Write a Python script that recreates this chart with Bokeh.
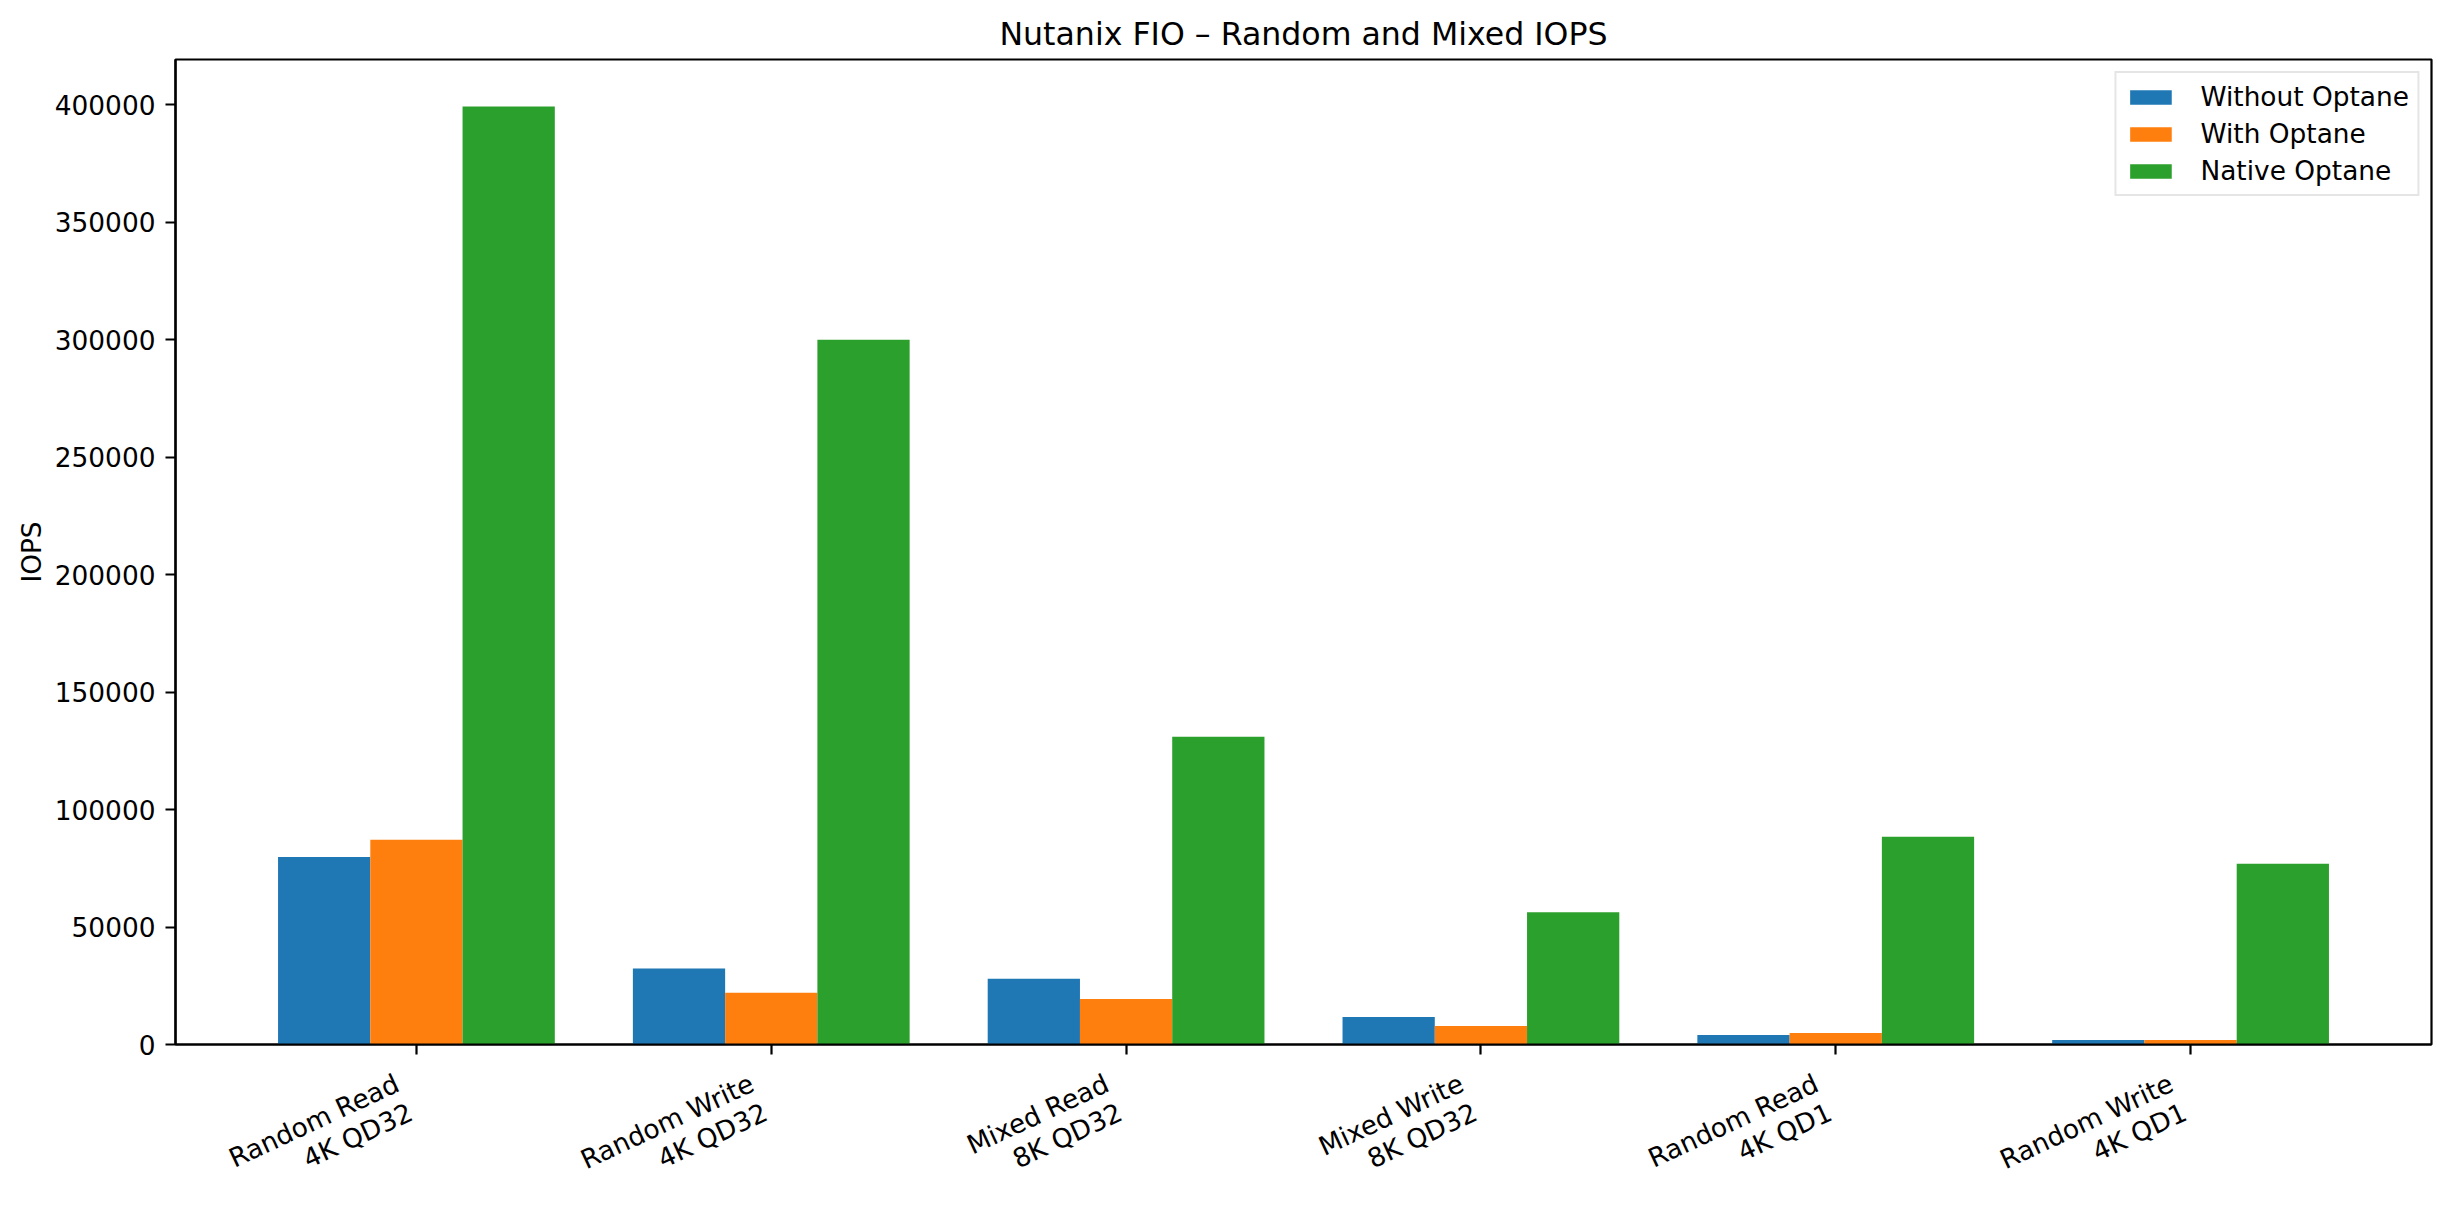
import math
from bokeh.plotting import figure
from bokeh.layouts import column
from bokeh.models import (ColumnDataSource, Range1d, FixedTicker, NumeralTickFormatter,
                          Legend, LegendItem)
from bokeh.core.properties import value
from bokeh.transform import dodge
from bokeh.embed import file_html
from bokeh.resources import INLINE

categories = ["Random Read\n4K QD32", "Random Write\n4K QD32", "Mixed Read\n8K QD32",
              "Mixed Write\n8K QD32", "Random Read\n4K QD1", "Random Write\n4K QD1"]
without_optane = [79800, 32300, 28000, 11700, 4000, 1900]
with_optane = [87100, 22000, 19400, 7900, 4900, 1900]
native_optane = [399300, 300000, 131000, 56300, 88400, 76900]
series_names = ["Without Optane", "With Optane", "Native Optane"]
series_colors = ["#1f77b4", "#ff7f0e", "#2ca02c"]
y_ticks = [0, 50000, 100000, 150000, 200000, 250000, 300000, 350000, 400000]

FONT = "DejaVu Sans"
FS = 26.4          # rendered text size
MFS = 27.8         # vertical metrics basis
TITLE_FS = 31.6
BAR_W = 0.26
ROT = 25.0
W = 2450
H_TOTAL = 1212
AXIS_Y = 1044      # page y of the x axis line
BOTTOM_MAIN = 24
H_MAIN = AXIS_Y + BOTTOM_MAIN
n = len(categories)
xs = list(range(n))

lo = -1.5 * BAR_W
hi = (n - 1) + 1.5 * BAR_W
pad = 0.05 * (hi - lo)
ymax = max(max(without_optane), max(with_optane), max(native_optane)) * 1.05
x_range = Range1d(lo - pad, hi + pad)

src = ColumnDataSource(dict(x=xs, a=without_optane, b=with_optane, c=native_optane))

p = figure(width=W, height=H_MAIN, output_backend="svg", toolbar_location=None,
           x_range=x_range, y_range=Range1d(0, ymax),
           title="Nutanix FIO \u2013 Random and Mixed IOPS",
           min_border_left=175, min_border_right=19, min_border_top=59,
           min_border_bottom=BOTTOM_MAIN)

renderers = []
for k, (col, name, color) in enumerate(zip(["a", "b", "c"], series_names, series_colors)):
    r = p.vbar(x=dodge("x", (k - 1) * BAR_W), top=col, width=BAR_W, source=src,
               fill_color=color, line_color=None)
    renderers.append(r)

legend = Legend(items=[LegendItem(label=nm, renderers=[r]) for nm, r in zip(series_names, renderers)],
                location="top_right")
legend.label_text_font = FONT
legend.label_text_font_size = f"{FS}px"
legend.label_text_color = "black"
legend.glyph_width = 52
legend.glyph_height = 18
legend.label_standoff = 24
legend.spacing = 6
legend.padding = 8
legend.margin = 12
legend.border_line_color = "#cccccc"
legend.border_line_width = 2
legend.background_fill_alpha = 0.8
p.add_layout(legend)

p.title.text_font = FONT
p.title.text_font_size = f"{TITLE_FS}px"
p.title.text_font_style = "normal"
p.title.text_color = "black"
p.title.align = "center"
p.title.standoff = 15

p.xgrid.visible = False
p.ygrid.visible = False
p.outline_line_color = "black"
p.outline_line_width = 2.2
p.outline_line_alpha = 1.0

xa = p.xaxis[0]
xa.ticker = FixedTicker(ticks=xs)
xa.major_label_overrides = {i: "" for i in xs}
xa.major_label_standoff = 0
xa.minor_tick_line_color = None

ya = p.yaxis[0]
ya.ticker = FixedTicker(ticks=y_ticks)
ya.formatter = NumeralTickFormatter(format="0")
ya.axis_label = "IOPS"
ya.minor_tick_line_color = None
ya.axis_label_standoff = 5
ya.major_label_standoff = 10

for ax in (xa, ya):
    ax.axis_line_width = 2.2
    ax.major_tick_line_width = 2.2
    ax.major_tick_out = 10
    ax.major_tick_in = 0
    ax.major_label_text_font = FONT
    ax.major_label_text_font_size = f"{FS}px"
    ax.major_label_text_color = "black"
    ax.axis_label_text_font = FONT
    ax.axis_label_text_font_size = f"{FS}px"
    ax.axis_label_text_font_style = "normal"
    ax.axis_label_text_color = "black"

# transparent strip, overlapping the bottom border of the plot, that holds the
# rotated, right-aligned two-line category labels
H_LAB = H_TOTAL - AXIS_Y
q = figure(width=W, height=H_LAB, output_backend="svg", toolbar_location=None,
           x_range=x_range, y_range=Range1d(-H_LAB, 0),
           x_axis_location=None, y_axis_location=None,
           min_border_left=175, min_border_right=19, min_border_top=0, min_border_bottom=0,
           margin=(-BOTTOM_MAIN, 0, 0, 0))
q.xgrid.visible = False
q.ygrid.visible = False
q.outline_line_color = None
q.background_fill_color = None
q.border_fill_color = None

s, c = math.sin(math.radians(ROT)), math.cos(math.radians(ROT))
line_gap = 1.148 * MFS
block_h = 2.144 * MFS
asc = 0.76 * MFS
top_y = 18.0
lx, ly, lt, loff = [], [], [], []
for i, cat in enumerate(categories):
    for j, line in enumerate(cat.split("\n")):
        lx.append(i)
        ly.append(-(top_y + asc * c + j * line_gap * c))
        loff.append(-block_h * s + asc * s + j * line_gap * s - 3)
        lt.append(line)
lab_src = ColumnDataSource(dict(x=lx, y=ly, t=lt, off=loff))
q.text(x="x", y="y", text="t", x_offset="off", source=lab_src, angle=ROT, angle_units="deg",
       text_align="right", text_baseline="alphabetic", text_font=value(FONT),
       text_font_size=f"{FS}px", text_color="black")

open("out.html", "w").write(file_html(column(p, q, spacing=0), INLINE))
